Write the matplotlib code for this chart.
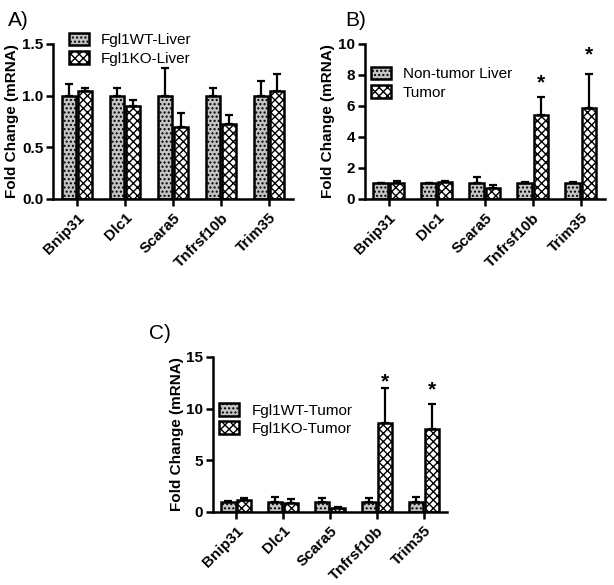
import numpy as np
import matplotlib
matplotlib.use("Agg")
import matplotlib.pyplot as plt

plt.rcParams['font.family'] = ['Liberation Sans', 'DejaVu Sans']
plt.rcParams['hatch.linewidth'] = 1.0

genes = ["Bnip31", "Dlc1", "Scara5", "Tnfrsf10b", "Trim35"]

# panel A
a_wt = [1.0, 1.0, 1.0, 1.0, 1.0]
a_wt_err = [0.11, 0.07, 0.27, 0.07, 0.14]
a_ko = [1.04, 0.90, 0.70, 0.72, 1.04]
a_ko_err = [0.03, 0.06, 0.13, 0.09, 0.17]

# panel B
b_nt = [1.0, 1.0, 1.0, 1.0, 1.0]
b_nt_err = [0.03, 0.03, 0.4, 0.1, 0.06]
b_tu = [1.05, 1.1, 0.7, 5.4, 5.85]
b_tu_err = [0.08, 0.06, 0.2, 1.2, 2.2]

# panel C
c_wt = [1.0, 1.0, 1.0, 1.0, 1.0]
c_wt_err = [0.1, 0.4, 0.3, 0.3, 0.4]
c_ko = [1.15, 0.9, 0.4, 8.6, 8.0]
c_ko_err = [0.15, 0.3, 0.1, 3.4, 2.4]


def panel(ax, v1, e1, v2, e2, lab1, lab2, ymax, yticks, stars, star_y, leg_loc):
    x = np.arange(len(genes))
    w = 0.3
    off = 0.17
    ax.bar(x - off, v1, w, yerr=[np.zeros(len(e1)), e1], color='#c4c4c4',
           edgecolor='black', linewidth=1.8, hatch='....', label=lab1,
           error_kw=dict(elinewidth=1.6, capsize=3, capthick=1.6))
    ax.bar(x + off, v2, w, yerr=[np.zeros(len(e2)), e2], color='white',
           edgecolor='black', linewidth=1.8, hatch='xxxx', label=lab2,
           error_kw=dict(elinewidth=1.6, capsize=3, capthick=1.6))
    for i, y in zip(stars, star_y):
        ax.text(x[i] + off, y, '*', ha='center', va='center', fontsize=15, fontweight='bold')
    ax.set_xlim(-0.5, len(genes) - 0.5)
    ax.set_ylim(0, ymax)
    ax.set_yticks(yticks)
    ax.set_xticks(x)
    ax.set_xticklabels(genes, rotation=45, ha='right', rotation_mode='anchor',
                       fontsize=11, fontweight='bold')
    for t in ax.get_yticklabels():
        t.set_fontweight('bold')
        t.set_fontsize(11)
    ax.set_ylabel('Fold Change (mRNA)', fontsize=11, fontweight='bold', labelpad=2)
    for s in ['top', 'right']:
        ax.spines[s].set_visible(False)
    for s in ['left', 'bottom']:
        ax.spines[s].set_linewidth(1.8)
    ax.tick_params(width=1.8, length=5)
    ax.tick_params(axis='y', pad=2)
    ax.legend(loc=leg_loc, frameon=False, fontsize=11, handlelength=1.3,
              handleheight=0.9, borderaxespad=0.2, labelspacing=0.25)


fig = plt.figure(figsize=(6.14, 5.85), dpi=100)

axA = fig.add_axes([0.0863, 0.660, 0.391, 0.265])
panel(axA, a_wt, a_wt_err, a_ko, a_ko_err, 'Fgl1WT-Liver', 'Fgl1KO-Liver',
      1.5, [0.0, 0.5, 1.0, 1.5], [], [], (0.04, 0.82))
axA.set_yticklabels(['0.0', '0.5', '1.0', '1.5'], fontweight='bold', fontsize=11)

axB = fig.add_axes([0.594, 0.660, 0.391, 0.265])
panel(axB, b_nt, b_nt_err, b_tu, b_tu_err, 'Non-tumor Liver', 'Tumor',
      10, [0, 2, 4, 6, 8, 10], [3, 4], [7.5, 9.3], (0.0, 0.6))

axC = fig.add_axes([0.347, 0.125, 0.381, 0.265])
panel(axC, c_wt, c_wt_err, c_ko, c_ko_err, 'Fgl1WT-Tumor', 'Fgl1KO-Tumor',
      15, [0, 5, 10, 15], [3, 4], [12.6, 11.8], (0.0, 0.45))

fig.text(0.013, 0.955, 'A)', fontsize=15)
fig.text(0.562, 0.955, 'B)', fontsize=15)
fig.text(0.243, 0.42, 'C)', fontsize=15)

fig.savefig('out.png', dpi=100)
